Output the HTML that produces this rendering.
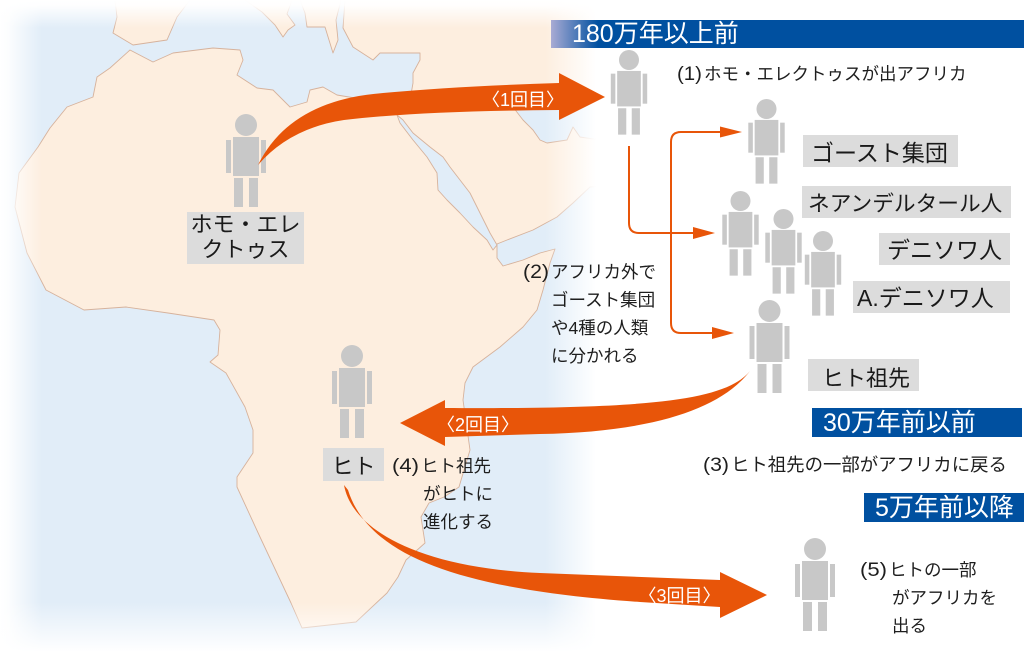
<!DOCTYPE html>
<html><head><meta charset="utf-8"><style>
html,body{margin:0;padding:0;background:#fff;}
svg{display:block;}
text{font-family:"Liberation Sans","Noto Sans CJK JP",sans-serif;}
</style></head><body>
<svg width="1024" height="659" viewBox="0 0 1024 659" xmlns="http://www.w3.org/2000/svg">
<defs>
<linearGradient id="gR" gradientUnits="userSpaceOnUse" x1="545" y1="0" x2="596" y2="0"><stop offset="0" stop-color="#fff" stop-opacity="0"/><stop offset="1" stop-color="#fff" stop-opacity="1"/></linearGradient>
<linearGradient id="gL" gradientUnits="userSpaceOnUse" x1="0" y1="0" x2="42" y2="0"><stop offset="0" stop-color="#fff" stop-opacity="1"/><stop offset="0.2" stop-color="#fff" stop-opacity="0.9"/><stop offset="1" stop-color="#fff" stop-opacity="0"/></linearGradient>
<linearGradient id="gT" gradientUnits="userSpaceOnUse" x1="0" y1="0" x2="0" y2="28"><stop offset="0" stop-color="#fff" stop-opacity="1"/><stop offset="0.2" stop-color="#fff" stop-opacity="0.95"/><stop offset="1" stop-color="#fff" stop-opacity="0"/></linearGradient>
<linearGradient id="gB" gradientUnits="userSpaceOnUse" x1="0" y1="602" x2="0" y2="652"><stop offset="0" stop-color="#fff" stop-opacity="0"/><stop offset="1" stop-color="#fff" stop-opacity="1"/></linearGradient>
<linearGradient id="gH" gradientUnits="userSpaceOnUse" x1="551" y1="0" x2="598" y2="0"><stop offset="0" stop-color="#a9abd4"/><stop offset="1" stop-color="#0050a0"/></linearGradient>
</defs>

<!-- map -->
<rect x="0" y="0" width="640" height="659" fill="#e1edf8"/>
<g fill="#fdeedf" stroke="#d6b29c" stroke-width="0.9" stroke-linejoin="round">
<path d="M50,128 L67,107 L93,97 L97,77 L110,68 L130,50 L153,62 L173,53 L213,48 L240,50 L243,60 L237,75 L257,88 L273,90 L290,107 L307,102 L310,90 L323,87 L337,95 L367,100 L400,107 L405,113 L410,100 L413,83 L413,73 L420,60 L420,53 L410,53 L380,53 L373,60 L353,47 L343,28 L345,0 L640,0 L640,185 L590,187 L573,203 L557,217 L533,230 L507,240 L497,244 L497,258 L503,266 L523,260 L540,253 L555,249 L550,263 L543,290 L537,310 L523,327 L500,347 L473,367 L465,383 L463,400 L470,450 L459,487 L444,497 L429,503 L421,517 L425,543 L406,560 L398,577 L387,593 L356,622 L302,628 L291,603 L260,537 L237,487 L237,477 L253,453 L253,430 L245,407 L226,373 L210,362 L218,355 L220,330 L214,320 L168,313 L126,307 L84,310 L46,290 L27,253 L15,207 L19,173 L38,147 Z"/>
<path d="M115,0 L117,17 L113,33 L133,45 L167,40 L177,17 L190,0 Z"/>
<path d="M245,0 L262,12 L275,25 L283,37 L288,30 L295,25 L287,14 L292,0 Z"/>
<path d="M300,0 L305,13 L307,27 L325,27 L333,53 L338,40 L336,20 L341,0 Z"/>
</g>
<g fill="#e1edf8" stroke="#d6b29c" stroke-width="0.9" stroke-linejoin="round">
<path d="M397,115 L400,123 L413,140 L427,157 L437,173 L438,190 L447,200 L460,213 L473,227 L487,240 L493,250 L497,245 L490,233 L480,213 L470,193 L460,180 L450,167 L443,157 L430,147 L413,133 L403,120 Z"/>
<path d="M500,100 L513,107 L523,120 L533,130 L540,140 L547,143 L567,140 L573,127 L580,137 L600,140 L640,130 L640,100 Z"/>
</g>
<!-- fades -->
<rect x="0" y="0" width="640" height="659" fill="url(#gR)"/>
<rect x="596" y="0" width="60" height="659" fill="#fff"/>
<rect x="0" y="0" width="42" height="659" fill="url(#gL)"/>
<rect x="0" y="0" width="640" height="28" fill="url(#gT)"/>
<rect x="0" y="602" width="640" height="57" fill="url(#gB)"/>

<!-- header bars -->
<rect x="551" y="20" width="473" height="28" fill="url(#gH)"/>
<rect x="598" y="20" width="426" height="28" fill="#0050a0"/>
<text x="572" y="42" font-size="25" fill="#fff">180万年以上前</text>
<rect x="812" y="408" width="210" height="29" fill="#0050a0"/>
<text x="823" y="431" font-size="25" fill="#fff">30万年前以前</text>
<rect x="864" y="493" width="160" height="29" fill="#0050a0"/>
<text x="875" y="516" font-size="25" fill="#fff">5万年前以降</text>

<!-- figures -->
<g fill="#c8c8c8">
<g transform="translate(246,114)"><circle cx="0" cy="11" r="11"/><rect x="-13" y="23" width="26" height="39"/><rect x="-20" y="26" width="5" height="33"/><rect x="15" y="26" width="5" height="33"/><rect x="-12" y="64" width="9" height="29"/><rect x="3" y="64" width="9" height="29"/></g>
<g transform="translate(629,50) scale(0.91)"><circle cx="0" cy="11" r="11"/><rect x="-13" y="23" width="26" height="39"/><rect x="-20" y="26" width="5" height="33"/><rect x="15" y="26" width="5" height="33"/><rect x="-12" y="64" width="9" height="29"/><rect x="3" y="64" width="9" height="29"/></g>
<g transform="translate(766.5,99) scale(0.91)"><circle cx="0" cy="11" r="11"/><rect x="-13" y="23" width="26" height="39"/><rect x="-20" y="26" width="5" height="33"/><rect x="15" y="26" width="5" height="33"/><rect x="-12" y="64" width="9" height="29"/><rect x="3" y="64" width="9" height="29"/></g>
<g transform="translate(740.5,191) scale(0.91)"><circle cx="0" cy="11" r="11"/><rect x="-13" y="23" width="26" height="39"/><rect x="-20" y="26" width="5" height="33"/><rect x="15" y="26" width="5" height="33"/><rect x="-12" y="64" width="9" height="29"/><rect x="3" y="64" width="9" height="29"/></g>
<g transform="translate(783.5,209) scale(0.91)"><circle cx="0" cy="11" r="11"/><rect x="-13" y="23" width="26" height="39"/><rect x="-20" y="26" width="5" height="33"/><rect x="15" y="26" width="5" height="33"/><rect x="-12" y="64" width="9" height="29"/><rect x="3" y="64" width="9" height="29"/></g>
<g transform="translate(823,231) scale(0.91)"><circle cx="0" cy="11" r="11"/><rect x="-13" y="23" width="26" height="39"/><rect x="-20" y="26" width="5" height="33"/><rect x="15" y="26" width="5" height="33"/><rect x="-12" y="64" width="9" height="29"/><rect x="3" y="64" width="9" height="29"/></g>
<g transform="translate(769.5,300)"><circle cx="0" cy="11" r="11"/><rect x="-13" y="23" width="26" height="39"/><rect x="-20" y="26" width="5" height="33"/><rect x="15" y="26" width="5" height="33"/><rect x="-12" y="64" width="9" height="29"/><rect x="3" y="64" width="9" height="29"/></g>
<g transform="translate(352,345)"><circle cx="0" cy="11" r="11"/><rect x="-13" y="23" width="26" height="39"/><rect x="-20" y="26" width="5" height="33"/><rect x="15" y="26" width="5" height="33"/><rect x="-12" y="64" width="9" height="29"/><rect x="3" y="64" width="9" height="29"/></g>
<g transform="translate(815,538)"><circle cx="0" cy="11" r="11"/><rect x="-13" y="23" width="26" height="39"/><rect x="-20" y="26" width="5" height="33"/><rect x="15" y="26" width="5" height="33"/><rect x="-12" y="64" width="9" height="29"/><rect x="3" y="64" width="9" height="29"/></g>
</g>

<!-- gray labels -->
<g fill="#dcdcdc">
<rect x="187" y="212" width="117" height="52"/>
<rect x="803" y="135" width="155" height="32"/>
<rect x="802" y="186" width="209" height="32"/>
<rect x="879" y="233" width="131" height="32"/>
<rect x="853" y="281" width="157" height="32"/>
<rect x="808" y="359" width="111" height="32"/>
<rect x="323" y="448" width="61" height="33"/>
</g>
<g fill="#1a1a1a">
<text x="245.5" y="232" font-size="22" text-anchor="middle">ホモ・エレ</text>
<text x="245.5" y="257" font-size="22" text-anchor="middle">クトゥス</text>
<text x="811" y="161" font-size="23">ゴースト集団</text>
<text x="808" y="211" font-size="21.7">ネアンデルタール人</text>
<text x="887" y="258" font-size="23">デニソワ人</text>
<text x="857" y="306" font-size="23">A.デニソワ人</text>
<text x="822" y="386" font-size="22">ヒト祖先</text>
<text x="353.5" y="474" font-size="22" text-anchor="middle">ヒト</text>
</g>

<!-- big arrows -->
<g fill="#e85509">
<path d="M258,165 Q290,100 383,93 Q460,86 559,83 L559,73 L605,97 L559,120 L559,110 Q420,111 344,120 Q290,128 258,165 Z"/>
<path d="M400,423 L445,400 L445,408 C640,409 725,402 750,371 C720,410 650,432 540,434 L445,437 L445,446 Z"/>
<path d="M344,485 C352,530 420,568 540,573 L720,580 L720,572 L767,595 L720,618 L720,607 L640,602 C470,590 370,560 348,490 Z"/>
</g>
<g fill="#fff" font-size="18">
<text x="482" y="106">〈1回目〉</text>
<text x="437" y="431">〈2回目〉</text>
<text x="638.5" y="602">〈3回目〉</text>
</g>

<!-- thin connectors -->
<g fill="none" stroke="#e85509" stroke-width="2">
<path d="M629,146 L629,223 Q629,233 639,233 L696,233"/>
<path d="M722,132 L681,132 Q671,132 671,142 L671,323 Q671,333 681,333 L713,333"/>
</g>
<g fill="#e85509">
<path d="M693,227 L715,233 L693,239 Z"/>
<path d="M720,126.5 L742,132 L720,137.5 Z"/>
<path d="M712,327 L734,333 L712,339 Z"/>
</g>

<!-- descriptive text -->
<g fill="#1e1e1e" font-size="17.5">
<text x="677" y="80" font-size="19" textLength="25" lengthAdjust="spacingAndGlyphs">(1)</text>
<text x="704" y="80">ホモ・エレクトゥスが出アフリカ</text>

<text x="523" y="278" font-size="19" textLength="26" lengthAdjust="spacingAndGlyphs">(2)</text>
<text x="551" y="278">アフリカ外で</text>
<text x="551" y="306">ゴースト集団</text>
<text x="551" y="334">や4種の人類</text>
<text x="551" y="362">に分かれる</text>

<text x="703" y="471" font-size="19" textLength="26" lengthAdjust="spacingAndGlyphs">(3)</text>
<text x="731" y="471" font-size="18.4">ヒト祖先の一部がアフリカに戻る</text>

<text x="392" y="472" font-size="19" textLength="27" lengthAdjust="spacingAndGlyphs">(4)</text>
<text x="421" y="472">ヒト祖先</text>
<text x="423" y="500">がヒトに</text>
<text x="423" y="528">進化する</text>

<text x="860" y="576" font-size="19" textLength="27" lengthAdjust="spacingAndGlyphs">(5)</text>
<text x="889" y="576">ヒトの一部</text>
<text x="892" y="604">がアフリカを</text>
<text x="892" y="632">出る</text>
</g>
</svg>
</body></html>
